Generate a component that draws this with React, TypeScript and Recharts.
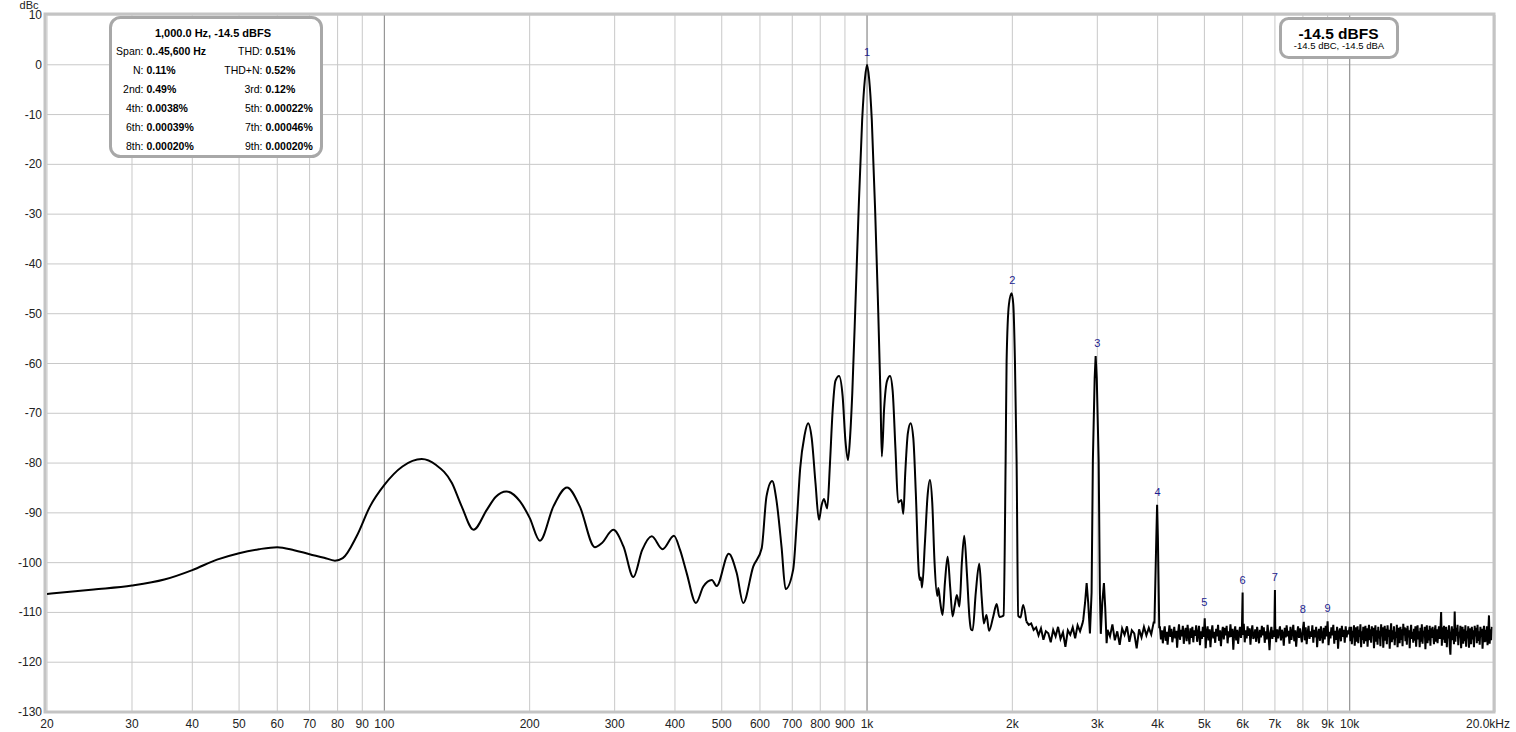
import React from 'react';
import {
  ComposedChart,
  Line,
  Scatter,
  XAxis,
  YAxis,
  CartesianGrid,
  ReferenceLine,
} from 'recharts';

// axis ticks
const xTicks = [
  20, 30, 40, 50, 60, 70, 80, 90, 100, 200, 300, 400, 500, 600, 700, 800, 900,
  1000, 2000, 3000, 4000, 5000, 6000, 7000, 8000, 9000, 10000, 20000,
];
const yTicks = [-130, -120, -110, -100, -90, -80, -70, -60, -50, -40, -30, -20, -10, 0, 10];
const decadeLines = [100, 1000, 10000];

// smooth part of the trace, [Hz, dBc]
const lowBand: [number, number][] = [
  [20, -106.3], [25, -105.4], [30, -104.6], [35, -103.4], [40, -101.5], [45, -99.4],
  [50, -98.1], [55, -97.3], [60, -96.9], [65, -97.5], [70, -98.3], [75, -99.0],
  [79, -99.6], [82, -99.1], [87.6, -94.7], [93.4, -88.7], [100, -84.4], [109, -80.7],
  [119.5, -79.2], [128, -80.4], [138, -84], [144.6, -88.7], [153, -93.4], [163, -89.4],
  [170, -86.8], [179, -85.7], [191, -87.7], [200, -91], [210, -95.6], [224, -88.7],
  [239, -84.9], [254, -88.7], [273, -96.9], [282, -96.1], [298, -93.4], [313, -96.8],
  [328, -102.9], [342, -97.5], [358, -94.7], [377, -97.3], [398, -94.6], [410, -97.5],
  [423, -102.1], [442, -108.1], [458, -104.8], [477, -103.5], [488, -104.7], [517, -98.2],
  [537, -102.1], [554, -108.1], [581, -100.8], [605, -97.1], [619, -86.7], [636, -83.6],
  [649, -87.4], [665, -96.8], [678, -105.3], [703, -101.4],
];

const mainBand: [number, number][] = [
  [715, -92], [727, -81], [742, -74.5], [755, -72], [768, -75], [782, -84],
  [795, -91.4], [805, -88.5], [814, -87.2], [827, -89.1], [838, -80], [848, -70],
  [860, -63.5], [875, -62.5], [890, -66.5], [902, -75.5], [913, -79.4], [922, -75],
  [932, -66], [947, -47], [960, -30], [977, -11.1], [990, -2.8], [1000, 0],
  [1010, -2.8], [1023, -11.1], [1040, -30], [1053, -47], [1066, -66], [1073, -78.7],
  [1085, -69], [1100, -63.5], [1116, -62.5], [1130, -65.5], [1145, -77], [1160, -87.9],
  [1178, -87.4], [1189, -90.2], [1200, -82], [1215, -74], [1231, -72], [1247, -75],
  [1262, -86], [1280, -102], [1287, -103.5], [1293, -103], [1300, -105], [1318, -96],
  [1335, -86.5], [1350, -83.4], [1365, -88], [1380, -100], [1398, -106.7], [1405, -105.1],
  [1418, -108], [1434, -110.5], [1450, -104], [1469, -98.8], [1487, -105], [1504, -110.8],
  [1520, -108.5], [1535, -106.5], [1554, -108.8], [1572, -100], [1590, -94.6], [1610, -102],
  [1630, -111], [1642, -113.4], [1655, -113.6], [1680, -106], [1708, -100.2], [1728, -107],
  [1746, -112.2], [1768, -110.5], [1790, -113.7], [1826, -110.8], [1856, -108.3], [1880, -110.9],
  [1905, -110.8], [1918, -110.6], [1937, -79.6], [1946, -59.5], [1968, -48.1], [1993, -45.9],
  [2009, -48.1], [2025, -59.5], [2041, -79.6], [2057, -110.7], [2080, -111], [2106, -108.5],
  [2138, -111.8],
];

// harmonic peaks sitting on the noise floor
const thirdPeak: [number, number][] = [
  [2805, -111.5], [2830, -108], [2851, -104.1], [2872, -108], [2896, -114.2], [2919, -106],
  [2937, -79.4], [2962, -63], [2976, -58.5], [2992, -63], [3019, -79.4], [3037, -106],
  [3050, -114.3], [3072, -108], [3096, -104.1], [3115, -109], [3136, -116.2],
];
const fourthPeak: [number, number][] = [
  [3940, -112], [3975, -95], [3990, -88.4], [4005, -95], [4031, -113],
];
const floorSpikes: [number, number][] = [[6000, -106], [7000, -105.5]];

// noise floor levels, bins evenly spread (log) between the edge frequencies
const floorAEdges = [2138, 2795];
const floorADb = [
  -111.8, -112.5, -112.2, -113.5, -113, -114.6, -113.2, -115.5, -113.8, -114.2, -116, -113.5,
  -114.8, -112.9, -115.3, -114, -116.9, -113.6, -114.5, -113, -115.2, -112.6, -113.8, -112.2,
];
const floorBEdges = [3150, 3925];
const floorBDb = [
  -113.5, -114.8, -112.4, -115.6, -113.8, -116.5, -113.2, -114.5, -112.8, -115.9,
  -113.6, -114.2, -117.2, -113.4, -115, -112.9, -114.6, -113.1, -114.4, -112,
];
const floorCEdges = [4045, 9990];
const floorCDb = [
  -113.0, -115.4, -113.6, -116.2, -114.0, -112.8, -115.7, -113.9, -116.5, -114.2,
  -112.6, -114.9, -113.3, -116.0, -114.6, -112.9, -115.2, -113.7, -117.1, -114.1,
  -112.4, -115.5, -113.5, -114.8, -112.7, -116.3, -114.0, -113.1, -115.8, -112.5,
  -114.6, -116.4, -113.2, -115.1, -112.9, -116.0, -113.6, -114.7, -112.6, -115.9,
  -114.3, -112.7, -116.6, -113.8, -115.3, -112.9, -114.9, -111.2, -117.2, -114.0,
  -112.8, -115.6, -113.4, -117.0, -114.1, -112.6, -115.2, -113.9, -116.1, -113.3,
  -114.8, -112.5, -115.7, -113.6, -116.8, -114.2, -112.9, -115.4, -113.1, -114.6,
  -112.7, -116.2, -113.8, -115.0, -112.4, -114.9, -113.3, -117.5, -114.0, -112.8,
  -115.6, -113.5, -116.3, -114.2, -112.9, -115.1, -113.7, -114.5, -112.3, -116.0,
  -113.6, -115.2, -112.8, -114.7, -113.2, -116.5, -113.9, -112.6, -115.3, -114.8,
  -113.4, -115.9, -112.9, -114.3, -116.2, -113.5, -115.0, -112.7, -114.6, -113.0,
  -116.1, -113.8, -115.4, -112.5, -114.4, -117.6, -114.1, -112.9, -115.3, -113.6,
  -114.9, -112.7, -116.0, -113.4, -115.2, -113.9, -112.8, -115.6, -113.5, -114.2,
  -116.7, -113.1, -115.0, -112.6, -114.8, -113.7, -116.3, -112.9, -115.5, -114.0,
  -112.5, -115.8, -113.6, -116.9, -114.3, -112.8, -115.1, -113.2, -114.7, -116.0,
  -113.4, -111.9, -115.6, -113.0, -116.4, -114.1, -112.7, -115.3, -113.8, -114.9,
  -112.6, -116.1, -113.5, -115.0, -112.9, -117.0, -114.2, -113.3, -115.7, -112.8,
  -114.5, -116.2, -113.1, -115.4, -112.7, -114.8, -111.8, -116.6, -113.9, -115.2,
  -113.0, -114.6, -112.5, -116.3, -113.7, -115.5, -112.9, -117.3, -114.0, -113.2,
  -115.8, -112.7, -114.9, -113.5, -116.1, -112.8, -115.0, -113.6, -114.4, -113.1,
];
const floorDEdges = [10000, 19700];
const floorDDb = [
  -113.1, -115.8, -112.9, -116.4, -113.7, -115.0, -112.6, -116.7, -114.2, -113.0,
  -115.9, -112.8, -116.2, -113.5, -114.9, -112.4, -117.0, -113.8, -115.5, -112.9,
  -116.3, -114.0, -112.7, -115.8, -113.2, -116.9, -114.4, -112.5, -115.6, -113.4,
  -116.1, -112.8, -114.7, -113.1, -117.2, -114.3, -112.6, -115.9, -113.6, -116.5,
  -112.9, -115.2, -113.7, -116.8, -112.4, -114.8, -113.0, -117.1, -114.5, -112.7,
  -115.7, -113.3, -116.4, -112.6, -114.9, -113.5, -117.3, -114.1, -112.2, -116.0,
  -113.6, -115.4, -112.8, -116.6, -113.9, -115.1, -112.5, -117.0, -114.3, -113.1,
  -116.2, -112.9, -115.5, -113.4, -116.8, -112.3, -114.6, -113.0, -115.8, -113.2,
  -116.5, -112.7, -115.0, -113.6, -117.2, -114.0, -112.5, -115.3, -113.9, -116.1,
  -113.3, -115.7, -112.8, -116.9, -114.2, -112.6, -115.4, -113.8, -117.0, -113.1,
  -115.9, -112.4, -116.3, -113.7, -114.8, -112.9, -117.4, -114.0, -112.6, -116.2,
  -113.5, -115.6, -112.7, -116.7, -113.2, -115.1, -112.9, -114.6, -116.4, -113.8,
  -112.6, -115.9, -113.4, -116.2, -114.0, -112.8, -115.3, -113.6, -109.9, -116.7,
  -113.0, -115.5, -112.7, -116.1, -114.4, -112.9, -117.0, -113.5, -115.2, -112.6,
  -116.8, -118.5, -114.2, -112.8, -115.6, -113.3, -116.4, -109.8, -115.9, -113.1,
  -114.7, -112.5, -116.6, -113.9, -115.0, -112.7, -117.2, -114.1, -112.9, -116.3,
  -113.4, -115.8, -112.6, -116.9, -113.7, -115.2, -112.8, -117.1, -114.0, -113.2,
  -116.4, -112.9, -115.4, -113.6, -117.0, -112.7, -114.8, -113.1, -116.2, -112.5,
  -115.7, -113.8, -116.5, -112.9, -114.9, -113.3, -117.3, -114.2, -112.7, -116.0,
  -113.5, -115.9, -112.8, -116.6, -113.9, -110.6, -116.3, -113.4, -115.6, -112.9,
];

// harmonic number markers
const markerHz = [1000, 2000, 3000, 4000, 5000, 6000, 7000, 8000, 9000];
const markerDb = [0, -45.9, -58.5, -88.4, -110.6, -106, -105.5, -112, -111.7];

const infoRows = [
  ['Span:', '0..45,600 Hz', 'THD:', '0.51%'],
  ['N:', '0.11%', 'THD+N:', '0.52%'],
  ['2nd:', '0.49%', '3rd:', '0.12%'],
  ['4th:', '0.0038%', '5th:', '0.00022%'],
  ['6th:', '0.00039%', '7th:', '0.00046%'],
  ['8th:', '0.00020%', '9th:', '0.00020%'],
];

const toPoints = (pairs: [number, number][]) => pairs.map(([hz, db]) => ({ hz, db }));

const binsOf = (edges: number[], levels: number[]) =>
  levels.map((db, i) => ({
    hz: edges[0] * Math.pow(edges[1] / edges[0], i / (levels.length - 1)),
    db,
  }));

const smoothData = toPoints([...lowBand, ...mainBand]);
const noisyData = [
  ...binsOf(floorAEdges, floorADb),
  ...toPoints(thirdPeak),
  ...binsOf(floorBEdges, floorBDb),
  ...toPoints(fourthPeak),
  ...binsOf(floorCEdges, floorCDb),
  ...toPoints(floorSpikes),
  ...binsOf(floorDEdges, floorDDb),
].sort((a, b) => a.hz - b.hz);
const markers = markerHz.map((hz, i) => ({ hz, db: markerDb[i], n: i + 1 }));

const fmtHz = (v: number) => {
  if (v === 20000) return '20.0kHz';
  if (v >= 1000) return v / 1000 + 'k';
  return String(v);
};

const XTick = (props: any) => {
  const { x, y, payload } = props;
  const last = payload.value === 20000;
  return (
    <text x={last ? x + 15 : x} y={y + 16} textAnchor={last ? 'end' : 'middle'} fontSize={12} fill="#222">
      {fmtHz(payload.value)}
    </text>
  );
};

const YTick = (props: any) => {
  const { x, y, payload } = props;
  return (
    <text x={x} y={y + 4} textAnchor="end" fontSize={12} fill="#222">
      {payload.value}
    </text>
  );
};

const MarkerLabel = (props: any) => (
  <text x={props.cx} y={props.cy - 9} textAnchor="middle" fontSize={11} fill="#1c1c8e">
    {props.payload.n}
  </text>
);

function Overlay() {
  const boxStroke = '#a8a8a8';
  return (
    <svg
      width={1516}
      height={732}
      style={{ position: 'absolute', left: 0, top: 0, pointerEvents: 'none' }}
    >
      <rect x={45} y={14} width={1449} height={698} fill="none" stroke="#c4c4c4" strokeWidth={3} />
      <text x={29} y={8.5} textAnchor="middle" fontSize={11} fill="#222">dBc</text>

      <rect x={110.5} y={17.5} width={211} height={139} rx={10} fill="#fff" stroke={boxStroke} strokeWidth={3} />
      <text x={213} y={36.5} textAnchor="middle" fontSize={11} fontWeight="bold" fill="#000">
        1,000.0 Hz, -14.5 dBFS
      </text>
      {infoRows.map((r, i) => {
        const yy = 55 + i * 19;
        return (
          <g key={i} fontSize={10.5} fill="#000">
            <text x={143.5} y={yy} textAnchor="end">{r[0]}</text>
            <text x={146.5} y={yy} fontWeight="bold">{r[1]}</text>
            <text x={262.5} y={yy} textAnchor="end">{r[2]}</text>
            <text x={265.5} y={yy} fontWeight="bold">{r[3]}</text>
          </g>
        );
      })}

      <rect x={1280.5} y={18.5} width={117} height={39} rx={8} fill="#fff" stroke={boxStroke} strokeWidth={3} />
      <text x={1338.5} y={38.5} textAnchor="middle" fontSize={15.5} fontWeight="bold" fill="#000">
        -14.5 dBFS
      </text>
      <text x={1339} y={49} textAnchor="middle" fontSize={9.5} fill="#000">
        -14.5 dBC, -14.5 dBA
      </text>
    </svg>
  );
}

export default function App() {
  return (
    <div
      style={{
        position: 'absolute',
        left: 0,
        top: 0,
        width: 1516,
        height: 732,
        background: '#fff',
        fontFamily: '"Liberation Sans", Arial, sans-serif',
      }}
    >
      <ComposedChart width={1516} height={732} margin={{ top: 15, right: 21, bottom: 0, left: 0 }}>
        <CartesianGrid stroke="#c8c8c8" strokeWidth={1} />
        <XAxis
          dataKey="hz"
          type="number"
          scale="log"
          domain={[20, 20000]}
          ticks={xTicks}
          interval={0}
          allowDataOverflow
          height={20}
          axisLine={false}
          tickLine={false}
          tickSize={0}
          tickMargin={0}
          tick={<XTick />}
        />
        <YAxis
          type="number"
          domain={[-130, 10]}
          ticks={yTicks}
          interval={0}
          allowDataOverflow
          width={47}
          axisLine={false}
          tickLine={false}
          tickSize={0}
          tickMargin={5}
          tick={<YTick />}
        />
        {decadeLines.map((f) => (
          <ReferenceLine key={f} x={f} stroke="#8e8e8e" strokeWidth={1} />
        ))}
        <Line
          data={smoothData}
          dataKey="db"
          type="monotone"
          dot={false}
          stroke="#000"
          strokeWidth={2}
          isAnimationActive={false}
        />
        <Line
          data={noisyData}
          dataKey="db"
          type="linear"
          dot={false}
          stroke="#000"
          strokeWidth={2}
          isAnimationActive={false}
        />
        <Scatter data={markers} dataKey="db" shape={MarkerLabel} isAnimationActive={false} />
      </ComposedChart>
      <Overlay />
    </div>
  );
}
